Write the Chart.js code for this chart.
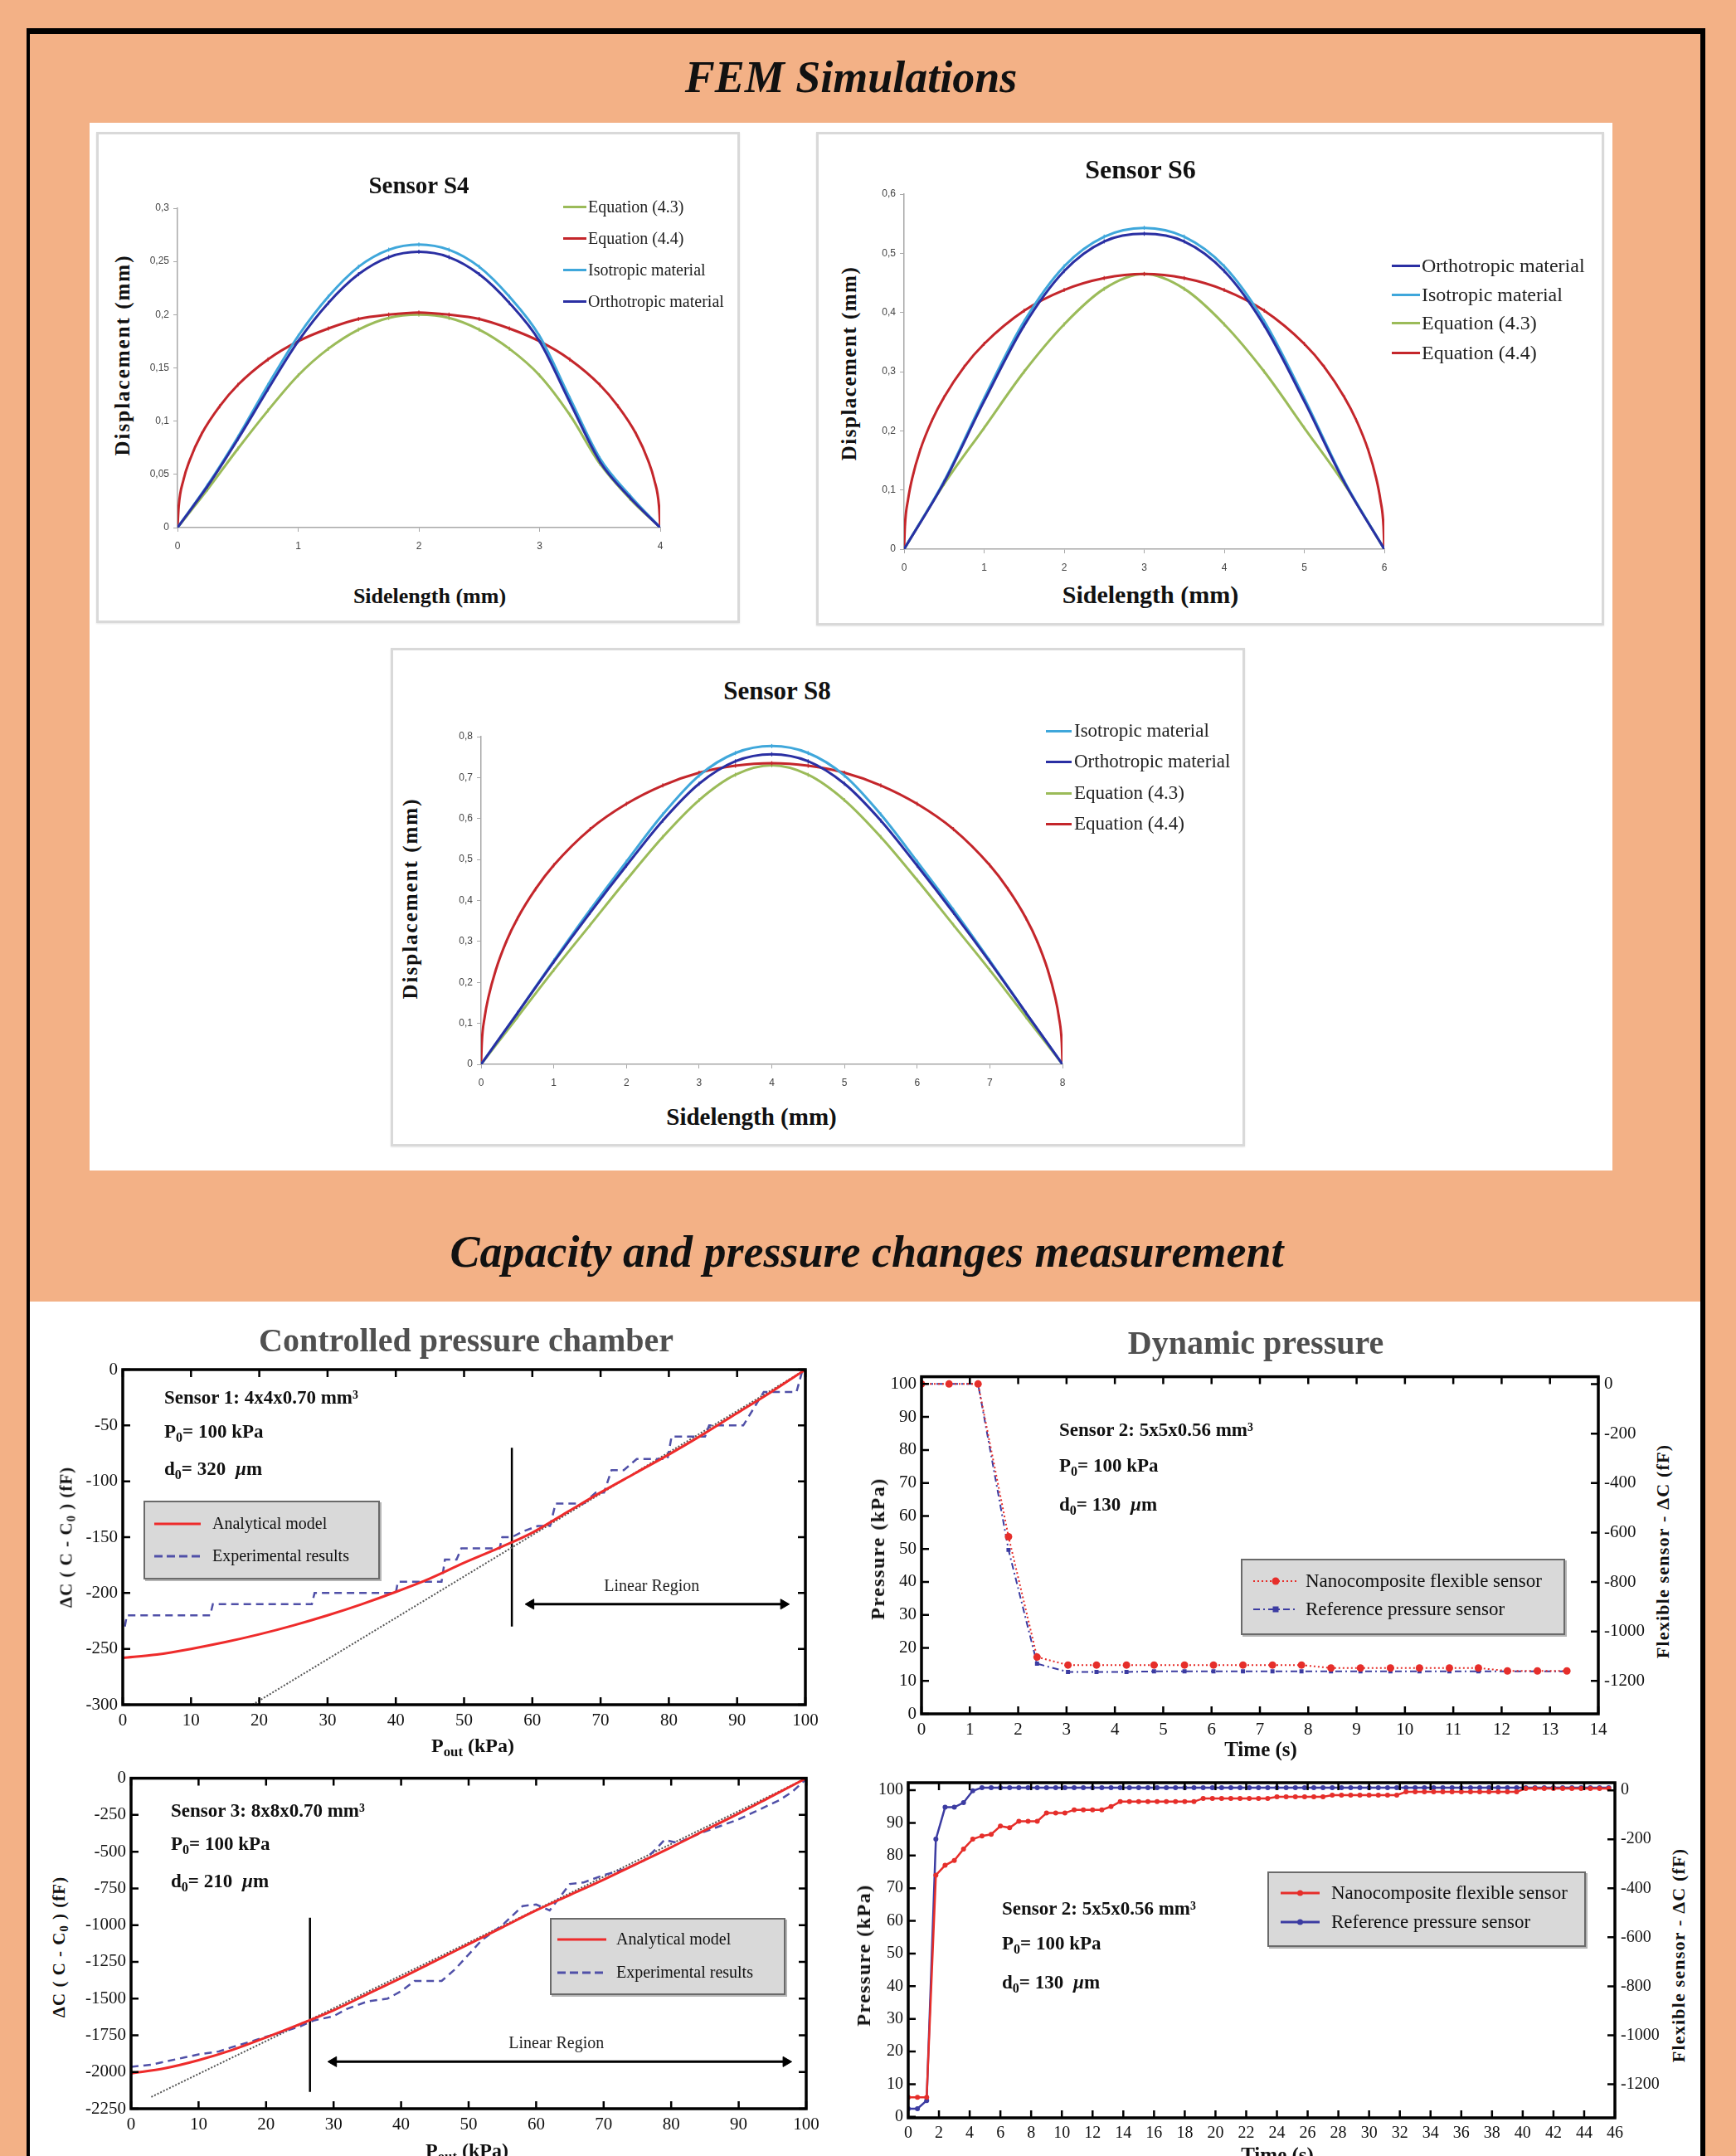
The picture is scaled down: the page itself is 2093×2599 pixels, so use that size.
<!DOCTYPE html>
<html>
<head>
<meta charset="utf-8">
<script src="https://cdn.jsdelivr.net/npm/chart.js@4.4.1/dist/chart.umd.min.js"></script>
<style>
  html, body { margin: 0; padding: 0; }
  body { width: 2093px; height: 2599px; background: #F3B186; position: relative; overflow: hidden;
         font-family: 'Liberation Serif', serif; color: #111; }
  .abs { position: absolute; white-space: nowrap; }
  #frame { left: 32px; top: 34px; width: 2014px; height: 2620px;
           border-top: 7px solid #000; border-left: 4px solid #000; border-right: 6px solid #000; }
  #femPanel { left: 108px; top: 148px; width: 1836px; height: 1263px; background: #fff; }
  #labPanel { left: 36px; top: 1569px; width: 2014px; height: 1040px; background: #fff; }
  .femBox { background: #fff; border: 3px solid #d9d9d9; box-sizing: border-box; box-shadow: 0 1px 2px #e6e6e6; }
  .lgBox { background: #d9d9d9; border: 2px solid #6a6a6a; box-sizing: border-box; box-shadow: 2px 2px 0 #b5b5b5; }
  .sub { position: relative; top: 0.3em; font-size: 0.7em; }
  canvas { position: absolute; }
</style>
</head>
<body>
<div id="frame" class="abs"></div>
<div id="femPanel" class="abs"></div>
<div class="abs femBox" style="left:116px;top:159px;width:776px;height:592px"></div>
<div class="abs femBox" style="left:984px;top:159px;width:950px;height:595px"></div>
<div class="abs femBox" style="left:471px;top:781px;width:1030px;height:601px"></div>
<div id="labPanel" class="abs"></div>

<script>
// ---------- FEM simulations : Sensor S4 (sidelength 0..4 mm) ----------
const s4X      = [0, 0.25, 0.5, 0.75, 1, 1.25, 1.5, 1.75, 2, 2.25, 2.5, 2.75, 3, 3.25, 3.5, 3.75, 4];
const s4Eq43   = [0, 0.036, 0.074, 0.11, 0.143, 0.168, 0.186, 0.197, 0.2, 0.197, 0.186, 0.168, 0.143, 0.106, 0.06, 0.027, 0];
const s4Iso    = [0, 0.04, 0.085, 0.134, 0.18, 0.217, 0.245, 0.261, 0.266, 0.261, 0.245, 0.217, 0.18, 0.122, 0.065, 0.03, 0];
const s4Ortho  = [0, 0.039, 0.083, 0.13, 0.175, 0.211, 0.238, 0.254, 0.259, 0.254, 0.238, 0.211, 0.175, 0.118, 0.062, 0.028, 0];
const s4Eq44X  = [0, 0.01, 0.05, 0.1, 0.2, 0.35, 0.5, 0.75, 1, 1.25, 1.5, 1.75, 2, 2.25, 2.5, 2.75, 3, 3.25, 3.5, 3.65, 3.8, 3.9, 3.95, 3.99, 4];
const s4Eq44   = [0, 0.02, 0.045, 0.063, 0.088, 0.114, 0.134, 0.158, 0.175, 0.187, 0.196, 0.2, 0.202, 0.2, 0.196, 0.187, 0.175, 0.158, 0.134, 0.114, 0.088, 0.063, 0.045, 0.02, 0];

// ---------- Sensor S6 (0..6 mm) ----------
const s6X      = [0, 0.5, 1, 1.5, 2, 2.5, 3, 3.5, 4, 4.5, 5, 5.5, 6];
const s6Eq43   = [0, 0.11, 0.205, 0.3, 0.38, 0.44, 0.465, 0.44, 0.38, 0.3, 0.205, 0.11, 0];
const s6Iso    = [0, 0.115, 0.255, 0.385, 0.478, 0.528, 0.543, 0.528, 0.478, 0.385, 0.255, 0.115, 0];
const s6Ortho  = [0, 0.113, 0.25, 0.378, 0.47, 0.52, 0.533, 0.52, 0.47, 0.378, 0.25, 0.113, 0];
const s6Eq44X  = [0, 0.01, 0.05, 0.1, 0.2, 0.35, 0.5, 0.75, 1, 1.5, 2, 2.5, 3, 3.5, 4, 4.5, 5, 5.25, 5.5, 5.65, 5.8, 5.9, 5.95, 5.99, 6];
const s6Eq44   = [0, 0.038, 0.084, 0.119, 0.167, 0.218, 0.257, 0.308, 0.347, 0.403, 0.438, 0.458, 0.465, 0.458, 0.438, 0.403, 0.347, 0.308, 0.257, 0.218, 0.167, 0.119, 0.084, 0.038, 0];

// ---------- Sensor S8 (0..8 mm) ----------
const s8X      = [0, 0.5, 1, 1.5, 2, 2.5, 3, 3.5, 4, 4.5, 5, 5.5, 6, 6.5, 7, 7.5, 8];
const s8Eq43   = [0, 0.115, 0.23, 0.34, 0.45, 0.555, 0.645, 0.707, 0.73, 0.707, 0.645, 0.555, 0.45, 0.34, 0.23, 0.115, 0];
const s8Iso    = [0, 0.125, 0.253, 0.377, 0.495, 0.61, 0.705, 0.76, 0.777, 0.76, 0.705, 0.61, 0.495, 0.377, 0.253, 0.125, 0];
const s8Ortho  = [0, 0.125, 0.25, 0.37, 0.485, 0.595, 0.685, 0.74, 0.757, 0.74, 0.685, 0.595, 0.485, 0.37, 0.25, 0.125, 0];
const s8Eq44X  = [0, 0.01, 0.05, 0.1, 0.2, 0.35, 0.5, 0.75, 1, 1.5, 2, 2.5, 3, 3.5, 4, 4.5, 5, 5.5, 6, 6.5, 7, 7.25, 7.5, 7.65, 7.8, 7.9, 7.95, 7.99, 8];
const s8Eq44   = [0, 0.052, 0.116, 0.163, 0.229, 0.301, 0.356, 0.428, 0.486, 0.574, 0.636, 0.681, 0.712, 0.729, 0.735, 0.729, 0.712, 0.681, 0.636, 0.574, 0.486, 0.428, 0.356, 0.301, 0.229, 0.163, 0.116, 0.052, 0];

// ---------- Controlled pressure chamber, sensor 1 ----------
const c1X      = [0, 5, 10, 15, 20, 25, 30, 35, 40, 45, 50, 55, 60, 65, 70, 75, 80, 85, 90, 95, 100];
const c1Model  = [-258, -255, -250, -244, -237, -229, -220, -210, -199, -187, -173, -160, -146, -128, -110, -93, -76, -58, -39, -20, 0];
const c1ExpX   = [0.3, 0.6, 12.8, 13.2, 27.7, 28.1, 40, 40.3, 46.7, 47.2, 48.9, 49.6, 55.2, 55.6, 57, 58.6, 60.8, 62.6, 63.4, 67.5, 69.3, 70.5, 71.6, 73.4, 75.3, 79.8, 80.4, 85.3, 85.9, 90.9, 93.9, 98.7, 99.6];
const c1ExpY   = [-230, -220, -220, -210, -210, -200, -200, -190, -190, -170, -170, -160, -160, -150, -150, -145, -140, -140, -120, -120, -110, -110, -90, -90, -80, -80, -60, -60, -50, -50, -20, -20, 0];
const c1FitX   = [19, 100];
const c1FitY   = [-300, 0];
const c1SplitX = [57, 57];
const c1SplitY = [-70, -230];
const c1ArrowX = [59.8, 96.8];
const c1ArrowY = [-210, -210];

// ---------- Controlled pressure chamber, sensor 3 ----------
const c3X      = [0, 5, 10, 15, 20, 25, 30, 35, 40, 45, 50, 55, 60, 65, 70, 75, 80, 85, 90, 95, 100];
const c3Model  = [-2010, -1975, -1920, -1850, -1765, -1675, -1580, -1470, -1360, -1245, -1130, -1015, -900, -795, -690, -580, -470, -355, -240, -120, 0];
const c3ExpX   = [0, 3, 5, 8, 10, 13, 15, 18, 20, 23, 25, 27, 30, 32, 35, 38, 40, 42, 46, 48, 50, 52, 55, 58, 60, 62, 65, 67, 70, 73, 76, 78, 79, 81, 84, 87, 90, 93, 96, 98, 100];
const c3ExpY   = [-1965, -1950, -1930, -1900, -1880, -1860, -1830, -1790, -1760, -1720, -1690, -1650, -1620, -1570, -1520, -1500, -1450, -1380, -1380, -1300, -1200, -1100, -1000, -870, -860, -900, -720, -710, -660, -620, -560, -470, -420, -440, -380, -330, -280, -215, -150, -90, -5];
const c3FitX   = [3, 100];
const c3FitY   = [-2170, 0];
const c3SplitX = [26.5, 26.5];
const c3SplitY = [-950, -2135];
const c3ArrowX = [30, 97];
const c3ArrowY = [-1930, -1930];

// ---------- Dynamic pressure: pressure drop (0..14 s) ----------
const c2T      = [0, 0.57, 1.17, 1.8, 2.39, 3.03, 3.62, 4.24, 4.81, 5.44, 6.04, 6.65, 7.26, 7.86, 8.47, 9.08, 9.7, 10.3, 10.92, 11.52, 12.12, 12.74, 13.35];
const c2Flex   = [100, 100, 100, 53.7, 17.2, 14.8, 14.8, 14.8, 14.8, 14.8, 14.8, 14.8, 14.8, 14.8, 13.9, 13.9, 13.9, 13.9, 13.9, 13.9, 13, 13, 13];
const c2Ref    = [100, 100, 100, 49.7, 15.2, 12.7, 12.7, 12.7, 12.9, 12.9, 12.9, 12.9, 12.9, 12.9, 12.9, 12.9, 12.9, 12.9, 12.9, 12.9, 12.9, 12.9, 12.9];

// ---------- Dynamic pressure: pressure rise (0..46 s) ----------
const c4T      = [0, 0.6, 1.2, 1.8, 2.4, 3, 3.6, 4.2, 4.8, 5.4, 6, 6.6, 7.2, 7.8, 8.4, 9, 9.6, 10.2, 10.8, 11.4,
                  12, 12.6, 13.2, 13.8, 14.4, 15, 15.6, 16.2, 16.8, 17.4, 18, 18.6, 19.2, 19.8, 20.4, 21, 21.6, 22.2, 22.8, 23.4,
                  24, 24.6, 25.2, 25.8, 26.4, 27, 27.6, 28.2, 28.8, 29.4, 30, 30.6, 31.2, 31.8, 32.4, 33, 33.6, 34.2, 34.8, 35.4,
                  36, 36.6, 37.2, 37.8, 38.4, 39, 39.6, 40.2, 40.8, 41.4, 42, 42.6, 43.2, 43.8, 44.4, 45, 45.6];
const c4Flex   = [6, 6, 6, 74, 77, 78.5, 82, 85, 86, 86.5, 89, 88.5, 90.5, 90.5, 90.5, 93, 93, 93, 94, 94,
                  94, 94, 95, 96.5, 96.5, 96.5, 96.5, 96.5, 96.5, 96.5, 96.5, 96.5, 97.5, 97.5, 97.5, 97.5, 97.5, 97.5, 97.5, 97.5,
                  98, 98, 98, 98, 98, 98, 98.5, 98.5, 98.5, 98.5, 98.5, 98.5, 98.5, 98.5, 99.5, 99.5, 99.5, 99.5, 99.5, 99.5,
                  99.5, 99.5, 99.5, 99.5, 99.5, 99.5, 99.5, 100.5, 100.5, 100.5, 100.5, 100.5, 100.5, 100.5, 100.5, 100.5, 100.5];
const c4Ref    = [2.5, 2.5, 5, 85, 94.8, 94.8, 96.2, 99.8, 100.8, 100.8, 100.8, 100.8, 100.8, 100.8, 100.8, 100.8, 100.8, 100.8, 100.8, 100.8,
                  100.8, 100.8, 100.8, 100.8, 100.8, 100.8, 100.8, 100.8, 100.8, 100.8, 100.8, 100.8, 100.8, 100.8, 100.8, 100.8, 100.8, 100.8, 100.8, 100.8,
                  100.8, 100.8, 100.8, 100.8, 100.8, 100.8, 100.8, 100.8, 100.8, 100.8, 100.8, 100.8, 100.8, 100.8, 100.8, 100.8, 100.8, 100.8, 100.8, 100.8,
                  100.8, 100.8, 100.8, 100.8, 100.8, 100.8, 100.8, 100.8, 100.8, 100.8, 100.8, 100.8, 100.8, 100.8, 100.8, 100.8, 100.8];

// right-hand axis of both dynamic pressure plots (flexible sensor, fF)
const dcTicks  = [0, -200, -400, -600, -800, -1000, -1200];

// colours
const eq43Color  = '#9BBB59';
const eq44Color  = '#C4262B';
const isoColor   = '#3FA7DB';
const orthoColor = '#2A2FA3';
const modelRed   = '#EE2B2B';
const expBlue    = '#5050A8';
const flexRed    = '#E62E2A';
const refBlue    = '#3C3CA2';

Chart.defaults.font.family = "'Liberation Serif', serif";
Chart.defaults.color = '#111';

const pts = (xs, ys) => xs.map((x, i) => ({ x, y: ys[i] }));
const body = document.body;

function makeCanvas(box) {
  const c = document.createElement('canvas');
  c.width = box[2] - box[0];
  c.height = box[3] - box[1];
  c.style.left = box[0] + 'px';
  c.style.top = box[1] + 'px';
  body.appendChild(c);
  return c.getContext('2d');
}

// text helpers (y is the baseline)
function txt(x, base, html, size, o = {}) {
  const d = document.createElement('div');
  d.className = 'abs';
  d.innerHTML = html;
  d.style.left = x + 'px';
  d.style.top = (base - 0.84 * size) + 'px';
  d.style.fontSize = size + 'px';
  d.style.lineHeight = size + 'px';
  d.style.fontWeight = o.bold ? 'bold' : 'normal';
  d.style.fontStyle = o.italic ? 'italic' : 'normal';
  if (o.color) d.style.color = o.color;
  if (o.ls) d.style.letterSpacing = o.ls + 'px';
  if (o.center) d.style.transform = 'translateX(-50%)';
  d.style.zIndex = 5;
  body.appendChild(d);
  return d;
}
function vtxt(cx, cy, html, size, o = {}) {
  const d = document.createElement('div');
  d.className = 'abs';
  d.innerHTML = html;
  d.style.left = cx + 'px';
  d.style.top = cy + 'px';
  d.style.fontSize = size + 'px';
  d.style.lineHeight = '1';
  d.style.fontWeight = 'bold';
  if (o.ls) d.style.letterSpacing = o.ls + 'px';
  d.style.transform = 'translate(-50%, -50%) rotate(-90deg)';
  d.style.zIndex = 5;
  body.appendChild(d);
}

// ---------- FEM charts ----------
function femChart(box, plot, xMax, yMax, yStep, series) {
  const ctx = makeCanvas(box);
  const axisGrey = '#a8a8a8';
  const tickFont = { family: "'Liberation Sans', sans-serif", size: 12 };
  return new Chart(ctx, {
    type: 'line',
    data: {
      datasets: series.map(s => ({
        label: s.label,
        data: pts(s.x, s.y),
        borderColor: s.color,
        backgroundColor: s.color,
        borderWidth: 3,
        pointStyle: 'line',
        pointRotation: 90,
        pointRadius: 2.5,
        pointBorderWidth: 1.2,
        cubicInterpolationMode: 'monotone',
        fill: false
      }))
    },
    options: {
      responsive: false,
      animation: false,
      layout: { padding: { top: plot[1] - box[1], right: box[2] - plot[2], left: 0, bottom: 0 } },
      plugins: { legend: { display: false }, tooltip: { enabled: false } },
      scales: {
        x: {
          type: 'linear', min: 0, max: xMax,
          afterFit: s => { s.height = box[3] - plot[3]; },
          ticks: { stepSize: 1, font: tickFont, color: '#444', padding: 10, maxRotation: 0 },
          grid: { drawOnChartArea: false, tickLength: 5, color: axisGrey },
          border: { color: axisGrey, width: 1.5 }
        },
        y: {
          type: 'linear', min: 0, max: yMax,
          afterFit: s => { s.width = plot[0] - box[0]; },
          ticks: { stepSize: yStep, font: tickFont, color: '#444', padding: 5,
                   callback: v => String(Math.round(v * 100) / 100).replace('.', ',') },
          grid: { drawOnChartArea: false, tickLength: 5, color: axisGrey },
          border: { color: axisGrey, width: 1.5 }
        }
      }
    }
  });
}

femChart([170, 225, 840, 690], [214, 251, 796, 636], 4, 0.3, 0.05, [
  { label: 'Orthotropic material', x: s4X, y: s4Ortho, color: orthoColor },
  { label: 'Isotropic material', x: s4X, y: s4Iso, color: isoColor },
  { label: 'Equation (4.4)', x: s4Eq44X, y: s4Eq44, color: eq44Color },
  { label: 'Equation (4.3)', x: s4X, y: s4Eq43, color: eq43Color }
]);
femChart([1040, 200, 1700, 700], [1090, 234, 1669, 662], 6, 0.6, 0.1, [
  { label: 'Orthotropic material', x: s6X, y: s6Ortho, color: orthoColor },
  { label: 'Isotropic material', x: s6X, y: s6Iso, color: isoColor },
  { label: 'Equation (4.4)', x: s6Eq44X, y: s6Eq44, color: eq44Color },
  { label: 'Equation (4.3)', x: s6X, y: s6Eq43, color: eq43Color }
]);
femChart([530, 860, 1310, 1320], [580, 888, 1281, 1283], 8, 0.8, 0.1, [
  { label: 'Orthotropic material', x: s8X, y: s8Ortho, color: orthoColor },
  { label: 'Isotropic material', x: s8X, y: s8Iso, color: isoColor },
  { label: 'Equation (4.4)', x: s8Eq44X, y: s8Eq44, color: eq44Color },
  { label: 'Equation (4.3)', x: s8X, y: s8Eq43, color: eq43Color }
]);

function femLegend(items, lineX0, lineX1, textX, ys, size) {
  items.forEach((it, i) => {
    const bar = document.createElement('div');
    bar.className = 'abs';
    bar.style.cssText += `left:${lineX0}px;top:${ys[i] - 1.5}px;width:${lineX1 - lineX0}px;height:3px;background:${it[1]};z-index:5`;
    body.appendChild(bar);
    txt(textX, ys[i] + 0.32 * size, it[0], size, { color: '#222' });
  });
}
femLegend([['Equation (4.3)', eq43Color], ['Equation (4.4)', eq44Color], ['Isotropic material', isoColor], ['Orthotropic material', orthoColor]],
          679, 707, 709, [249, 287, 325, 363], 20);
femLegend([['Orthotropic material', orthoColor], ['Isotropic material', isoColor], ['Equation (4.3)', eq43Color], ['Equation (4.4)', eq44Color]],
          1678, 1712, 1714, [320, 355, 389, 425], 24);
femLegend([['Isotropic material', isoColor], ['Orthotropic material', orthoColor], ['Equation (4.3)', eq43Color], ['Equation (4.4)', eq44Color]],
          1261, 1292, 1295, [881, 918, 956, 993], 23);

txt(1026, 111, 'FEM Simulations', 54, { bold: true, italic: true, center: true });
txt(505, 233, 'Sensor S4', 29, { bold: true, center: true });
txt(1375, 215, 'Sensor S6', 32, { bold: true, center: true });
txt(937, 843, 'Sensor S8', 31, { bold: true, center: true });
txt(518, 728, 'Sidelength (mm)', 26, { bold: true, center: true });
txt(1387, 727, 'Sidelength (mm)', 30, { bold: true, center: true });
txt(906, 1356, 'Sidelength (mm)', 29, { bold: true, center: true });
vtxt(147, 428, 'Displacement (mm)', 25, { ls: 2 });
vtxt(1023, 438, 'Displacement (mm)', 25, { ls: 1.5 });
vtxt(494, 1083, 'Displacement (mm)', 25, { ls: 2 });

// ---------- measurement charts ----------
const boxFrame = {
  id: 'boxFrame',
  afterDatasetsDraw(chart) {
    const { ctx, chartArea: a, scales } = chart;
    const L = 9;
    ctx.save();
    ctx.strokeStyle = '#000';
    ctx.lineWidth = 2.5;
    ctx.beginPath();
    scales.x.ticks.forEach(t => {
      const p = scales.x.getPixelForValue(t.value);
      ctx.moveTo(p, a.bottom); ctx.lineTo(p, a.bottom - L);
      ctx.moveTo(p, a.top); ctx.lineTo(p, a.top + L);
    });
    scales.y.ticks.forEach(t => {
      const p = scales.y.getPixelForValue(t.value);
      ctx.moveTo(a.left, p); ctx.lineTo(a.left + L, p);
      if (!scales.y2) { ctx.moveTo(a.right, p); ctx.lineTo(a.right - L, p); }
    });
    if (scales.y2) {
      scales.y2.ticks.forEach(t => {
        const p = scales.y2.getPixelForValue(t.value);
        ctx.moveTo(a.right, p); ctx.lineTo(a.right - L, p);
      });
    }
    ctx.stroke();
    ctx.lineWidth = 3.5;
    ctx.strokeRect(a.left, a.top, a.right - a.left, a.bottom - a.top);
    ctx.restore();
  }
};

const regionNote = {
  id: 'regionNote',
  afterDatasetsDraw(chart, args, o) {
    if (!o || !o.text) return;
    const { ctx, scales: { x, y } } = chart;
    ctx.save();
    ctx.font = `${o.size}px 'Liberation Serif'`;
    ctx.fillStyle = '#222';
    ctx.textAlign = 'center';
    ctx.textBaseline = 'middle';
    ctx.fillText(o.text, x.getPixelForValue(o.x), y.getPixelForValue(o.y));
    ctx.restore();
  }
};

function labChart(box, plot, cfg) {
  const ctx = makeCanvas(box);
  const tickFont = { size: cfg.tickSize || 21 };
  const scales = {
    x: {
      type: 'linear', min: cfg.x[0], max: cfg.x[1],
      afterFit: s => { s.height = box[3] - plot[3]; },
      ticks: { stepSize: cfg.x[2], font: tickFont, color: '#111', padding: 7, maxRotation: 0,
               autoSkip: false, callback: v => String(v) },
      grid: { display: false, drawTicks: false },
      border: { display: false }
    },
    y: {
      type: 'linear', min: cfg.y[0], max: cfg.y[1],
      afterFit: s => { s.width = plot[0] - box[0]; },
      ticks: { stepSize: cfg.y[2], font: tickFont, color: '#111', padding: 6, includeBounds: false,
               callback: v => String(v) },
      grid: { display: false, drawTicks: false },
      border: { display: false }
    }
  };
  if (cfg.y2) {
    scales.y2 = {
      type: 'linear', position: 'right', min: cfg.y2[0], max: cfg.y2[1],
      afterFit: s => { s.width = box[2] - plot[2]; },
      afterBuildTicks: s => { s.ticks = cfg.y2Ticks.map(v => ({ value: v })); },
      ticks: { font: tickFont, color: '#111', padding: 7, callback: v => String(v) },
      grid: { display: false, drawTicks: false },
      border: { display: false }
    };
  }
  return new Chart(ctx, {
    type: 'line',
    data: { datasets: cfg.datasets },
    options: {
      responsive: false,
      animation: false,
      layout: { padding: { top: plot[1] - box[1], right: cfg.y2 ? 0 : box[2] - plot[2], left: 0, bottom: 0 } },
      plugins: { legend: { display: false }, tooltip: { enabled: false }, regionNote: cfg.note || {} },
      scales
    },
    plugins: [boxFrame, regionNote]
  });
}

const plain = { pointRadius: 0, fill: false };
const arrowStyle = { borderColor: '#000', backgroundColor: '#000', borderWidth: 3, pointStyle: 'triangle',
                     pointRadius: 7, pointRotation: [-90, 90], pointBorderWidth: 1, fill: false };

labChart([88, 1630, 1000, 2092], [148, 1651, 971, 2055], {
  x: [0, 100, 10], y: [-300, 0, 50],
  note: { text: 'Linear Region', x: 77.5, y: -194, size: 20 },
  datasets: [
    { label: 'Analytical model', data: pts(c1X, c1Model), borderColor: modelRed, borderWidth: 3, cubicInterpolationMode: 'monotone', ...plain },
    { label: 'Experimental results', data: pts(c1ExpX, c1ExpY), borderColor: expBlue, borderWidth: 2.5, borderDash: [9, 6], ...plain },
    { label: 'Linear fit', data: pts(c1FitX, c1FitY), borderColor: '#555', borderWidth: 2, borderDash: [2, 2], ...plain },
    { label: 'Limit', data: pts(c1SplitX, c1SplitY), borderColor: '#000', borderWidth: 2.5, ...plain },
    { label: 'Linear region', data: pts(c1ArrowX, c1ArrowY), ...arrowStyle }
  ]
});

labChart([93, 2125, 1000, 2580], [158, 2143, 972, 2542], {
  x: [0, 100, 10], y: [-2250, 0, 250],
  note: { text: 'Linear Region', x: 63, y: -1807, size: 20 },
  datasets: [
    { label: 'Analytical model', data: pts(c3X, c3Model), borderColor: modelRed, borderWidth: 3, cubicInterpolationMode: 'monotone', ...plain },
    { label: 'Experimental results', data: pts(c3ExpX, c3ExpY), borderColor: expBlue, borderWidth: 2.5, borderDash: [9, 6], ...plain },
    { label: 'Linear fit', data: pts(c3FitX, c3FitY), borderColor: '#555', borderWidth: 2, borderDash: [2, 2], ...plain },
    { label: 'Limit', data: pts(c3SplitX, c3SplitY), borderColor: '#000', borderWidth: 2.5, ...plain },
    { label: 'Linear region', data: pts(c3ArrowX, c3ArrowY), ...arrowStyle }
  ]
});

labChart([1068, 1640, 1992, 2098], [1111, 1656, 1927, 2066], {
  x: [0, 14, 1], y: [0, 102.2, 10], y2: [-1333, 30], y2Ticks: dcTicks,
  datasets: [
    { label: 'Nanocomposite flexible sensor', data: pts(c2T, c2Flex), borderColor: flexRed, backgroundColor: flexRed,
      borderWidth: 2, borderDash: [2, 3], pointStyle: 'circle', pointRadius: 4.5, pointBorderWidth: 0, fill: false },
    { label: 'Reference pressure sensor', data: pts(c2T, c2Ref), borderColor: refBlue, backgroundColor: refBlue,
      borderWidth: 2, borderDash: [8, 4, 2, 4], pointStyle: 'rect', pointRadius: 3.5, pointBorderWidth: 0, fill: false }
  ]
});

labChart([1040, 2130, 2010, 2585], [1095, 2145, 1947, 2553], {
  x: [0, 46, 2], y: [-0.3, 102.3, 10], y2: [-1337, 31], y2Ticks: dcTicks, tickSize: 20,
  datasets: [
    { label: 'Nanocomposite flexible sensor', data: pts(c4T, c4Flex), borderColor: flexRed, backgroundColor: flexRed,
      borderWidth: 2.5, pointStyle: 'circle', pointRadius: 3, pointBorderWidth: 0, fill: false },
    { label: 'Reference pressure sensor', data: pts(c4T, c4Ref), borderColor: refBlue, backgroundColor: refBlue,
      borderWidth: 2.5, pointStyle: 'circle', pointRadius: 3, pointBorderWidth: 0, fill: false }
  ]
});

// legends of the measurement charts
function lineSample(kind, color, w) {
  const y = 8;
  if (kind === 'solid') return `<svg width="${w}" height="16"><line x1="0" y1="${y}" x2="${w}" y2="${y}" stroke="${color}" stroke-width="3"/></svg>`;
  if (kind === 'dash') return `<svg width="${w}" height="16"><line x1="0" y1="${y}" x2="${w}" y2="${y}" stroke="${color}" stroke-width="3" stroke-dasharray="10 5"/></svg>`;
  if (kind === 'dotdot') return `<svg width="${w}" height="16"><line x1="0" y1="${y}" x2="${w}" y2="${y}" stroke="${color}" stroke-width="2" stroke-dasharray="2 3"/><circle cx="${w / 2}" cy="${y}" r="4.5" fill="${color}"/></svg>`;
  if (kind === 'dashdot') return `<svg width="${w}" height="16"><line x1="0" y1="${y}" x2="${w}" y2="${y}" stroke="${color}" stroke-width="2" stroke-dasharray="8 4 2 4"/><rect x="${w / 2 - 3.5}" y="${y - 3.5}" width="7" height="7" fill="${color}"/></svg>`;
  return `<svg width="${w}" height="16"><line x1="0" y1="${y}" x2="${w}" y2="${y}" stroke="${color}" stroke-width="3"/><circle cx="${w / 2}" cy="${y}" r="3.5" fill="${color}"/></svg>`;
}
function labLegend(rect, rows, sampleX, textX, size) {
  const b = document.createElement('div');
  b.className = 'abs lgBox';
  b.style.left = rect[0] + 'px'; b.style.top = rect[1] + 'px';
  b.style.width = (rect[2] - rect[0]) + 'px'; b.style.height = (rect[3] - rect[1]) + 'px';
  b.style.zIndex = 4;
  body.appendChild(b);
  rows.forEach(r => {
    const s = document.createElement('div');
    s.className = 'abs';
    s.innerHTML = lineSample(r.kind, r.color, sampleX[1] - sampleX[0]);
    s.style.left = sampleX[0] + 'px'; s.style.top = (r.y - 8) + 'px'; s.style.height = '16px'; s.style.zIndex = 5;
    body.appendChild(s);
    txt(textX, r.y + 0.3 * size, r.text, size);
  });
}
labLegend([173, 1809, 458, 1904], [
  { y: 1837, kind: 'solid', color: modelRed, text: 'Analytical model' },
  { y: 1876, kind: 'dash', color: expBlue, text: 'Experimental results' }], [186, 242], 256, 20);
labLegend([663, 2312, 947, 2405], [
  { y: 2338, kind: 'solid', color: modelRed, text: 'Analytical model' },
  { y: 2378, kind: 'dash', color: expBlue, text: 'Experimental results' }], [672, 731], 743, 20);
labLegend([1496, 1879, 1887, 1971], [
  { y: 1906, kind: 'dotdot', color: flexRed, text: 'Nanocomposite flexible sensor' },
  { y: 1940, kind: 'dashdot', color: refBlue, text: 'Reference pressure sensor' }], [1511, 1565], 1574, 23);
labLegend([1528, 2256, 1912, 2347], [
  { y: 2282, kind: 'marker', color: flexRed, text: 'Nanocomposite flexible sensor' },
  { y: 2317, kind: 'marker', color: refBlue, text: 'Reference pressure sensor' }], [1544, 1591], 1605, 23);

// headings, annotations and axis titles
txt(1045, 1527, 'Capacity and pressure changes measurement', 54, { bold: true, italic: true, center: true });
txt(562, 1630, 'Controlled pressure chamber', 40, { bold: true, center: true, color: '#505050' });
txt(1514, 1633, 'Dynamic pressure', 40, { bold: true, center: true, color: '#505050' });

const sensorNotes = [
  [198, [1692, 1733, 1778], 'Sensor 1: 4x4x0.70 mm³', '320'],
  [206, [2190, 2230, 2275], 'Sensor 3: 8x8x0.70 mm³', '210'],
  [1277, [1731, 1774, 1821], 'Sensor 2: 5x5x0.56 mm³', '130'],
  [1208, [2308, 2350, 2397], 'Sensor 2: 5x5x0.56 mm³', '130']
];
sensorNotes.forEach(n => {
  txt(n[0], n[1][0], n[2], 23, { bold: true });
  txt(n[0], n[1][1], 'P<span class="sub">0</span>= 100 kPa', 23, { bold: true });
  txt(n[0], n[1][2], `d<span class="sub">0</span>= ${n[3]} &nbsp;<i>µ</i>m`, 23, { bold: true });
});

txt(570, 2112, 'P<span class="sub">out</span> (kPa)', 24, { bold: true, center: true });
txt(563, 2600, 'P<span class="sub">out</span> (kPa)', 24, { bold: true, center: true });
txt(1520, 2117, 'Time (s)', 25, { bold: true, center: true });
txt(1540, 2606, 'Time (s)', 25, { bold: true, center: true });
vtxt(80, 1853, 'ΔC ( C - C<span class="sub">0</span> ) (fF)', 21, { ls: 1 });
vtxt(71, 2347, 'ΔC ( C - C<span class="sub">0</span> ) (fF)', 21, { ls: 1 });
vtxt(1058, 1867, 'Pressure (kPa)', 24, { ls: 1.5 });
vtxt(1041, 2357, 'Pressure (kPa)', 24, { ls: 1.5 });
vtxt(2005, 1870, 'Flexible sensor - ΔC (fF)', 22, { ls: 1.2 });
vtxt(2024, 2357, 'Flexible sensor - ΔC (fF)', 22, { ls: 1.2 });
</script>
</body>
</html>
